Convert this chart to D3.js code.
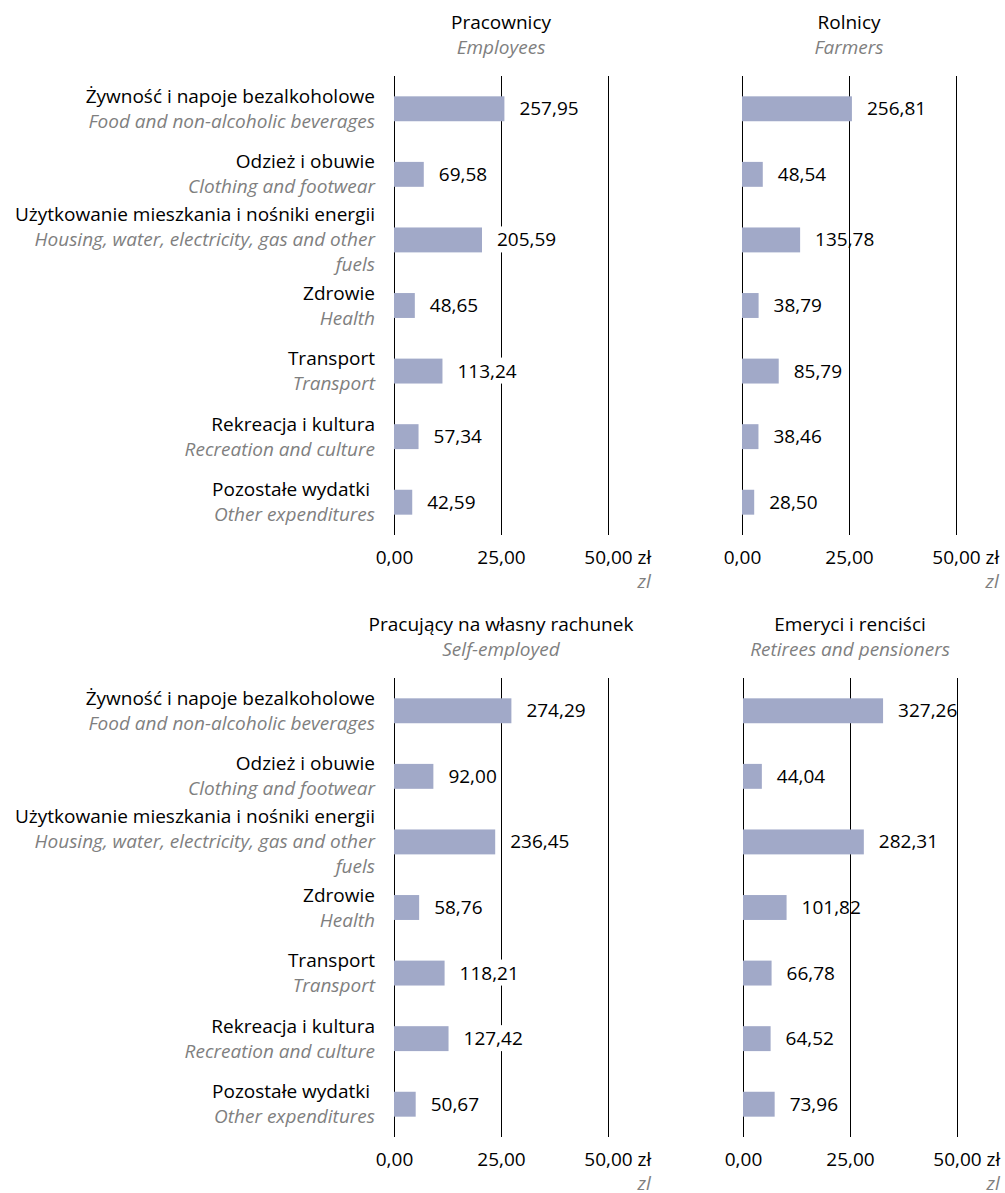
<!DOCTYPE html>
<html>
<head>
<meta charset="utf-8">
<script src="https://cdn.jsdelivr.net/npm/d3@7"></script>
<style>
  body { margin: 0; background: #fff; }
  svg text { font-family: "Open Sans", sans-serif; font-size: 19px; }
</style>
</head>
<body>
<script>
// kategorie wydatków (PL / EN)
const categoriesPl = [
  "Żywność i napoje bezalkoholowe",
  "Odzież i obuwie",
  "Użytkowanie mieszkania i nośniki energii",
  "Zdrowie",
  "Transport",
  "Rekreacja i kultura",
  "Pozostałe wydatki "
];
const categoriesEn = [
  "Food and non-alcoholic beverages",
  "Clothing and footwear",
  "Housing, water, electricity, gas and other fuels",
  "Health",
  "Transport",
  "Recreation and culture",
  "Other expenditures"
];

// grupy gospodarstw domowych
const groupsPl = ["Pracownicy", "Rolnicy", "Pracujący na własny rachunek", "Emeryci i renciści"];
const groupsEn = ["Employees", "Farmers", "Self-employed", "Retirees and pensioners"];

// wartości (zł)
const employees    = [257.95, 69.58, 205.59, 48.65, 113.24, 57.34, 42.59];
const farmers      = [256.81, 48.54, 135.78, 38.79, 85.79, 38.46, 28.50];
const selfEmployed = [274.29, 92.00, 236.45, 58.76, 118.21, 127.42, 50.67];
const retirees     = [327.26, 44.04, 282.31, 101.82, 66.78, 64.52, 73.96];

// oś
const tickValues = [0, 25, 50];
const tickLabels = ["0,00", "25,00", "50,00"];
const unitPl = " zł";
const unitEn = "zl";
const barDivisor = 10; // słupki w oryginale są rysowane w dziesiątkach zł

const width = 1005;
const height = 1193;
const barColor = "#a1a9c8";
const grey = "#7f7f7f";

const panels = [
  { values: employees,    g: 0, x0: 394, top: 76,  bottom: 535,  labels: true },
  { values: farmers,      g: 1, x0: 742, top: 76,  bottom: 535,  labels: false },
  { values: selfEmployed, g: 2, x0: 394, top: 678, bottom: 1137, labels: true },
  { values: retirees,     g: 3, x0: 743, top: 678, bottom: 1137, labels: false }
];

const svg = d3.select("body").append("svg")
  .attr("width", width)
  .attr("height", height);

// łamanie tekstu na linie
function wrapLines(str, maxWidth) {
  const probe = svg.append("text").attr("font-style", "italic");
  const words = str.split(" ");
  const lines = [];
  let cur = "";
  words.forEach(w => {
    const test = cur ? cur + " " + w : w;
    probe.text(test);
    if (cur && probe.node().getComputedTextLength() > maxWidth) {
      lines.push(cur);
      cur = w;
    } else {
      cur = test;
    }
  });
  lines.push(cur);
  probe.remove();
  return lines;
}

panels.forEach(p => {
  const x = d3.scaleLinear()
    .domain([0, 50])
    .range([p.x0, p.x0 + 214]);

  const y = d3.scaleBand()
    .domain(d3.range(categoriesPl.length))
    .range([p.top, p.bottom])
    .paddingInner(0.62)
    .paddingOuter(0.31);

  const g = svg.append("g");

  // tytuł panelu
  g.append("text")
    .attr("x", x(25))
    .attr("y", p.top - 47)
    .attr("text-anchor", "middle")
    .attr("fill", "#000")
    .text(groupsPl[p.g]);
  g.append("text")
    .attr("x", x(25))
    .attr("y", p.top - 22)
    .attr("text-anchor", "middle")
    .attr("font-style", "italic")
    .attr("fill", grey)
    .text(groupsEn[p.g]);

  // siatka + etykiety osi
  const axis = g.append("g")
    .attr("transform", `translate(0,${p.bottom})`)
    .call(d3.axisBottom(x)
      .tickValues(tickValues)
      .tickSize(-(p.bottom - p.top))
      .tickFormat((d, i) => tickLabels[i]));
  axis.select(".domain").remove();
  axis.selectAll(".tick line").attr("stroke", "#000").attr("stroke-width", 1);
  axis.selectAll(".tick text")
    .attr("y", 29)
    .attr("dy", null)
    .attr("fill", "#000")
    .attr("font-size", null)
    .attr("font-family", null);

  const lastTick = axis.selectAll(".tick text").filter((d, i) => i === tickValues.length - 1);
  const w50 = lastTick.node().getComputedTextLength();
  lastTick.attr("text-anchor", "start").attr("x", -w50 / 2);
  lastTick.append("tspan").text(unitPl);
  const endX = Math.min(x(50) - w50 / 2 + lastTick.node().getComputedTextLength(), width - 3);

  g.append("text")
    .attr("x", endX)
    .attr("y", p.bottom + 53)
    .attr("text-anchor", "end")
    .attr("font-style", "italic")
    .attr("fill", grey)
    .text(unitEn);

  // słupki
  g.selectAll("rect.bar")
    .data(p.values)
    .join("rect")
    .attr("class", "bar")
    .attr("x", x(0))
    .attr("y", (d, i) => y(i))
    .attr("width", d => x(d / barDivisor) - x(0))
    .attr("height", y.bandwidth())
    .attr("fill", barColor);

  // etykiety wartości
  const vl = g.selectAll("g.val")
    .data(p.values)
    .join("g")
    .attr("class", "val");
  vl.each(function(d, i) {
    const sel = d3.select(this);
    const cy = y(i) + y.bandwidth() / 2;
    const t = sel.append("text")
      .attr("x", x(d / barDivisor) + 15)
      .attr("y", cy + 6.5)
      .attr("fill", "#000")
      .text(d.toFixed(2).replace(".", ","));
    if (p.labels) {
      const bb = t.node().getBBox();
      sel.insert("rect", "text")
        .attr("x", bb.x - 2)
        .attr("y", bb.y)
        .attr("width", bb.width + 4)
        .attr("height", bb.height)
        .attr("fill", "#fff");
    }
  });

  // etykiety kategorii
  if (p.labels) {
    categoriesPl.forEach((c, i) => {
      const enLines = wrapLines(categoriesEn[i], 352);
      const n = 1 + enLines.length;
      const cy = y(i) + y.bandwidth() / 2;
      const first = cy - 12.5 * (n - 1) + 6.5;
      const t = g.append("text")
        .attr("text-anchor", "end")
        .attr("xml:space", "preserve")
        .style("white-space", "pre");
      t.append("tspan")
        .attr("x", p.x0 - 19)
        .attr("y", first)
        .attr("fill", "#000")
        .text(c);
      enLines.forEach((line, k) => {
        t.append("tspan")
          .attr("x", p.x0 - 19)
          .attr("y", first + 25 * (k + 1))
          .attr("fill", grey)
          .attr("font-style", "italic")
          .text(line);
      });
    });
  }
});
</script>
</body>
</html>
